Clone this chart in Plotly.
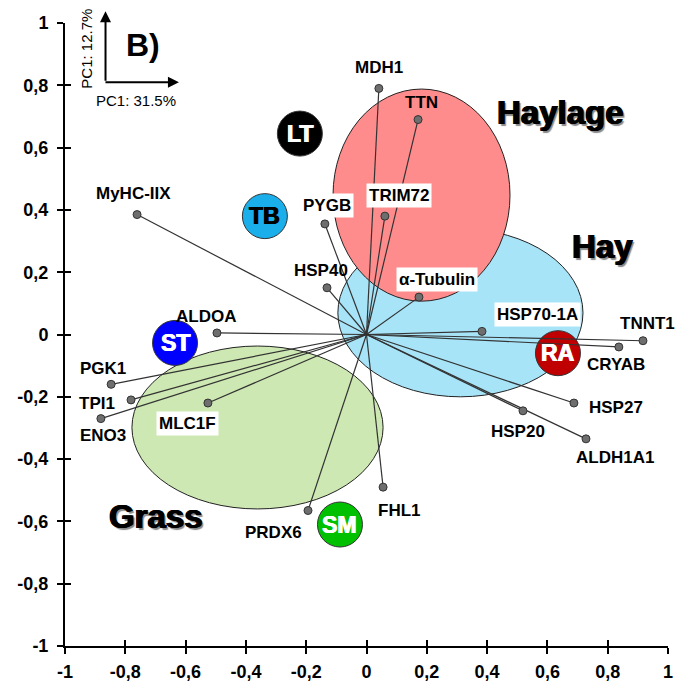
import plotly.graph_objects as go

# ---- data ----
genes = ["MDH1", "TTN", "TRIM72", "PYGB", "MyHC-IIX", "HSP40", "α-Tubulin", "HSP70-1A",
         "TNNT1", "CRYAB", "HSP27", "HSP20", "ALDH1A1", "ALDOA", "PGK1", "TPI1",
         "ENO3", "MLC1F", "PRDX6", "FHL1"]
pc1 = [0.041, 0.171, 0.061, -0.138, -0.761, -0.131, 0.174, 0.383,
       0.917, 0.837, 0.688, 0.519, 0.728, -0.496, -0.847, -0.781,
       -0.881, -0.526, -0.194, 0.055]
pc2 = [0.79, 0.69, 0.38, 0.355, 0.385, 0.15, 0.12, 0.01,
       -0.02, -0.04, -0.22, -0.245, -0.335, 0.005, -0.16, -0.21,
       -0.27, -0.22, -0.565, -0.49]
# label offsets (pixels) and whether label has a white box
lab_dx = [0, 3, 14, 2, -4, -6, 18, 56, 5, -3, 42, -5, 29, -11, -8, -34, 2, -20, -35, 16]
lab_dy = [21, 17, 21, 18, 21, 17, 18, 17, 17, -18, -4, -21, -19, 16, 16, -4, -17, -20, -22, -23]
boxed = ["TRIM72", "PYGB", "α-Tubulin", "HSP70-1A", "MLC1F"]

groups = ["LT", "TB", "ST", "RA", "SM"]
group_x = [-0.221, -0.337, -0.635, 0.635, -0.088]
group_y = [0.645, 0.38, -0.027, -0.06, -0.61]
group_fill = ["#000000", "#1AAEEA", "#0000FF", "#C00000", "#00C000"]
group_text = ["white", "black", "white", "white", "white"]

diets = ["Grass", "Hay", "Haylage"]
ell_x0 = [-0.778, -0.095, -0.111]
ell_x1 = [0.055, 0.718, 0.476]
ell_y0 = [-0.56, -0.20, 0.107]
ell_y1 = [-0.037, 0.339, 0.788]
ell_fill = ["#CDE8B2", "#A8E4F8", "#FF8C8C"]
diet_lx = [-0.698, 0.784, 0.645]
diet_ly = [-0.585, 0.281, 0.714]

ticks = [-1, -0.8, -0.6, -0.4, -0.2, 0, 0.2, 0.4, 0.6, 0.8, 1]
tick_text = ["-1", "-0,8", "-0,6", "-0,4", "-0,2", "0", "0,2", "0,4", "0,6", "0,8", "1"]

FONT = "Liberation Sans, Arial, sans-serif"

fig = go.Figure()

# ellipses
for i in range(len(diets)):
    fig.add_shape(type="circle", xref="x", yref="y",
                  x0=ell_x0[i], x1=ell_x1[i], y0=ell_y0[i], y1=ell_y1[i],
                  fillcolor=ell_fill[i], line=dict(color="#222222", width=1), layer="below")

# group circles
fig.add_trace(go.Scatter(
    x=group_x, y=group_y, mode="markers",
    marker=dict(size=45, color=group_fill, line=dict(color="#333333", width=1)),
    hoverinfo="skip", showlegend=False))

# loading lines
lx, ly = [], []
for a, b in zip(pc1, pc2):
    lx += [0, a, None]
    ly += [0, b, None]
fig.add_trace(go.Scatter(x=lx, y=ly, mode="lines",
                         line=dict(color="#333333", width=1.2),
                         hoverinfo="skip", showlegend=False))
fig.add_trace(go.Scatter(x=pc1, y=pc2, mode="markers",
                         marker=dict(size=8, color="#6E6E6E", line=dict(color="#333333", width=1)),
                         hoverinfo="skip", showlegend=False))

# group circle labels (drawn on top)
for g, a, b, c in zip(groups, group_x, group_y, group_text):
    fig.add_annotation(x=a, y=b, text="<b>%s</b>" % g, showarrow=False,
                       xanchor="center", yanchor="middle",
                       font=dict(family=FONT, size=23, color=c,
                                 shadow="0.6px 0 0 %s, -0.6px 0 0 %s" % (c, c)))

# invisible trace to activate overlay axes (for crossing ticks)
fig.add_trace(go.Scatter(x=[0], y=[0], xaxis="x2", yaxis="y2", mode="markers",
                         marker=dict(opacity=0), hoverinfo="skip", showlegend=False))

# gene labels
for g, a, b, dx, dy in zip(genes, pc1, pc2, lab_dx, lab_dy):
    fig.add_annotation(x=a, y=b, text="<b>%s</b>" % g, showarrow=False,
                       xshift=dx, yshift=dy, xanchor="center", yanchor="middle",
                       font=dict(family=FONT, size=17, color="black"),
                       bgcolor="white" if g in boxed else "rgba(0,0,0,0)",
                       borderpad=2)

# diet labels
for d, a, b in zip(diets, diet_lx, diet_ly):
    fig.add_annotation(x=a, y=b, text="<b>%s</b>" % d, showarrow=False,
                       xanchor="center", yanchor="middle",
                       font=dict(family=FONT, size=33, color="black",
                                 shadow="0.8px 0 0 #000, -0.8px 0 0 #000, 2px 2px 1px #888"))

# inset
fig.add_annotation(xref="paper", yref="paper", x=0.0672, y=1.019, ax=0, ay=71,
                   axref="pixel", ayref="pixel", text="", showarrow=True,
                   arrowhead=2, arrowsize=1.1, arrowwidth=2, arrowcolor="black")
fig.add_annotation(xref="paper", yref="paper", x=0.189, y=0.905, ax=-75, ay=0,
                   axref="pixel", ayref="pixel", text="", showarrow=True,
                   arrowhead=2, arrowsize=1.1, arrowwidth=2, arrowcolor="black")
fig.add_annotation(xref="paper", yref="paper", x=0.0357, y=0.958, text="PC1: 12.7%",
                   textangle=-90, showarrow=False, xanchor="center", yanchor="middle",
                   font=dict(family=FONT, size=15, color="black"))
fig.add_annotation(xref="paper", yref="paper", x=0.118, y=0.876, text="PC1: 31.5%",
                   showarrow=False, xanchor="center", yanchor="middle",
                   font=dict(family=FONT, size=15, color="black"))
fig.add_annotation(xref="paper", yref="paper", x=0.129, y=0.965, text="<b>B)</b>",
                   showarrow=False, xanchor="center", yanchor="middle",
                   font=dict(family=FONT, size=32, color="black"))

axis_common = dict(range=[-1, 1], tickvals=ticks, ticktext=tick_text,
                   showgrid=False, zeroline=False, showline=True, automargin=False,
                   linecolor="black", linewidth=2, ticks="outside", ticklen=6,
                   tickwidth=2, tickcolor="black",
                   tickfont=dict(family=FONT, size=18, color="black", weight="bold"))
overlay_common = dict(range=[-1, 1], tickvals=ticks, automargin=False,
                      showgrid=False, zeroline=False, showline=False, showticklabels=False,
                      ticks="inside", ticklen=6, tickwidth=2, tickcolor="black")
fig.update_layout(
    xaxis=dict(**axis_common, ticklabelstandoff=2),
    yaxis=dict(**axis_common, ticklabelstandoff=5),
    xaxis2=dict(**overlay_common, overlaying="x", anchor="y", side="bottom"),
    yaxis2=dict(**overlay_common, overlaying="y", anchor="x", side="left"),
)

fig.update_layout(width=693, height=690,
                  margin=dict(l=57, r=33, t=15, b=52, autoexpand=False),
                  plot_bgcolor="white", paper_bgcolor="white",
                  showlegend=False)

fig.write_html("out.html")
